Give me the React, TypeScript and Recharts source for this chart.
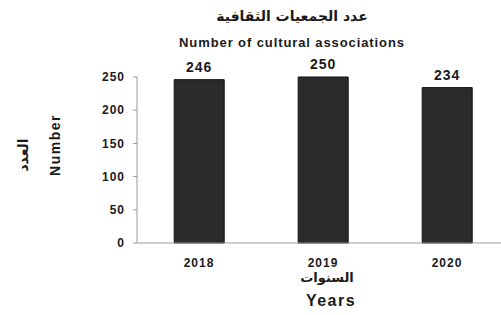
import React from 'react';
import { BarChart, Bar, XAxis, YAxis, LabelList } from 'recharts';

const years = ['2018', '2019', '2020'];
const associations = [246, 250, 234];
const yTicks = [0, 50, 100, 150, 200, 250];

const data = years.map((year, i) => ({ year, value: associations[i] }));

const font = 'Arial, "Liberation Sans", sans-serif';
const arabicFont = '"DejaVu Sans", "Noto Sans", sans-serif';
const ink = '#1a1a1a';

const txt = (extra: React.CSSProperties): React.CSSProperties => ({
    position: 'absolute',
    color: ink,
    fontWeight: 'bold',
    whiteSpace: 'nowrap',
    lineHeight: 1,
    transform: 'translate(-50%, -50%)',
    ...extra,
});

const tickStyle = {
    fontSize: 12,
    fontWeight: 'bold',
    fill: ink,
    fontFamily: font,
    letterSpacing: 1,
};

export default function App() {
    return (
        <div
            style={{
                position: 'absolute',
                left: 0,
                top: 0,
                width: 501,
                height: 315,
                overflow: 'hidden',
                background: '#fff',
            }}
        >
            <BarChart
                width={510}
                height={315}
                data={data}
                margin={{ top: 77, right: 1, left: 0, bottom: 42 }}
                barCategoryGap="30%"
            >
                <XAxis
                    dataKey="year"
                    height={30}
                    tickLine={false}
                    tickMargin={9}
                    axisLine={{ stroke: '#999' }}
                    tick={tickStyle}
                />
                <YAxis
                    width={137}
                    domain={[0, 250]}
                    ticks={yTicks}
                    tickSize={4}
                    tickMargin={8}
                    axisLine={{ stroke: '#999' }}
                    tickLine={{ stroke: '#999' }}
                    tick={tickStyle}
                />
                <Bar
                    dataKey="value"
                    fill="#2b2b2b"
                    stroke="#111"
                    strokeWidth={1}
                    isAnimationActive={false}
                >
                    <LabelList
                        dataKey="value"
                        position="top"
                        offset={8}
                        style={{
                            fontSize: 14,
                            fontWeight: 'bold',
                            fill: ink,
                            fontFamily: font,
                            letterSpacing: 1,
                        }}
                    />
                </Bar>
            </BarChart>

            <div style={txt({ left: 292, top: 16, fontSize: 14, fontFamily: arabicFont })} dir="rtl">
                عدد الجمعيات الثقافية
            </div>
            <div style={txt({ left: 292, top: 42, fontSize: 13, fontFamily: font, letterSpacing: 0.9 })}>
                Number of cultural associations
            </div>
            <div
                style={txt({
                    left: 23,
                    top: 155,
                    fontSize: 14,
                    fontFamily: arabicFont,
                    transform: 'translate(-50%, -50%) rotate(-90deg)',
                })}
                dir="rtl"
            >
                العدد
            </div>
            <div
                style={txt({
                    left: 55,
                    top: 145,
                    fontSize: 14,
                    fontFamily: font,
                    letterSpacing: 1.5,
                    transform: 'translate(-50%, -50%) rotate(-90deg)',
                })}
            >
                Number
            </div>
            <div style={txt({ left: 327, top: 277, fontSize: 13, fontFamily: arabicFont })} dir="rtl">
                السنوات
            </div>
            <div style={txt({ left: 331, top: 301, fontSize: 16, fontFamily: font, letterSpacing: 1.5 })}>
                Years
            </div>
        </div>
    );
}
